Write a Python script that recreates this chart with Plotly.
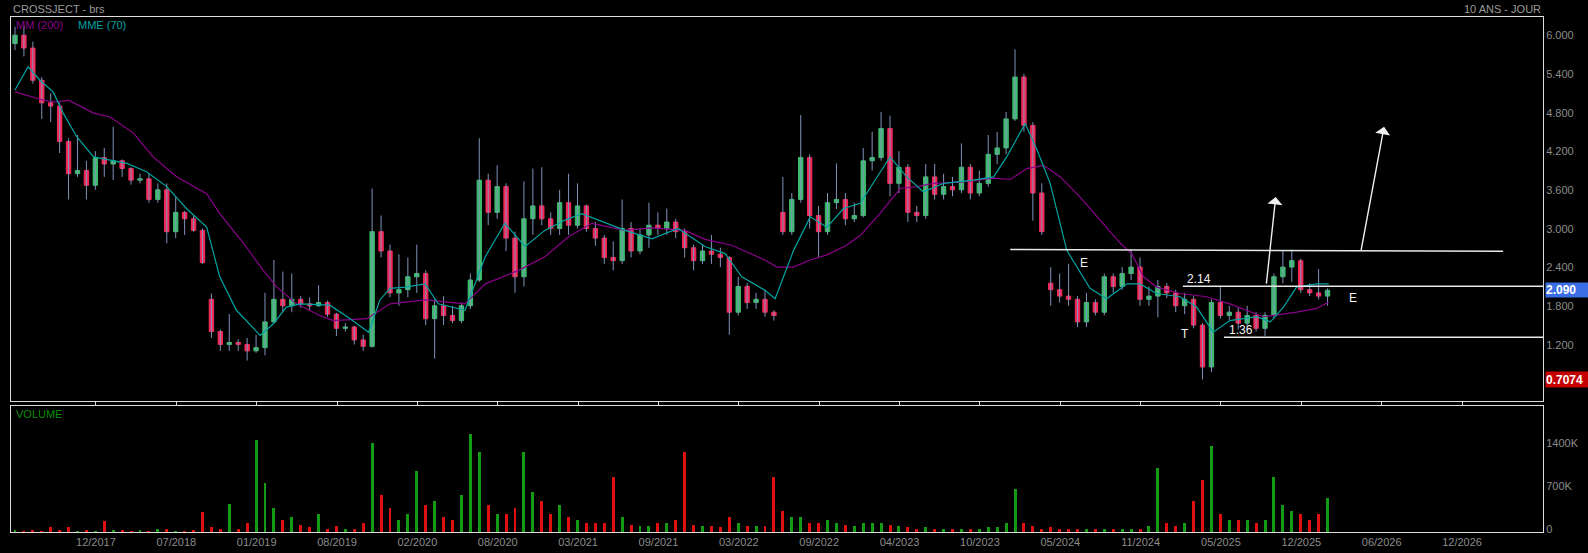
import plotly.graph_objects as go

# ---------------- DATA ----------------
# candles: one candle per 15 sessions (session index = position on the trading-day axis)
opens = [5.92,6.05,5.85,5.35,5.00,4.95,4.40,3.90,3.95,3.72,4.15,4.05,4.10,3.98,3.80,3.82,3.50,3.65,3.00,3.30,3.20,3.02,
         1.95,1.45,1.25,1.28,1.25,1.15,1.20,1.60,1.95,1.85,1.95,1.88,1.85,1.90,1.72,1.50,1.52,1.32,1.22,3.00,2.70,2.05,
         2.10,2.30,2.35,1.65,1.85,1.70,1.62,1.85,2.25,3.80,3.30,3.70,2.90,2.30,3.20,3.40,3.20,3.05,3.45,3.10,3.40,3.05,
         2.90,2.60,2.55,3.05,2.70,2.95,3.10,3.05,3.15,3.00,2.75,2.55,2.70,2.65,2.60,1.75,2.15,1.90,1.95,1.75,3.30,3.00,
         3.50,4.15,3.25,3.00,3.45,3.50,3.20,3.25,4.10,4.15,4.60,3.75,4.00,3.30,3.25,3.85,3.58,3.70,3.65,4.00,3.60,3.75,
         4.20,4.30,4.75,5.40,4.65,3.60,2.20,2.10,2.00,1.95,1.60,1.90,1.75,2.30,2.15,2.35,2.45,1.95,2.00,2.15,2.05,1.85,
         1.95,1.55,0.90,1.90,1.70,1.75,1.58,1.70,1.50,1.70,2.30,2.45,2.55,2.10,2.05,2.00]
highs = [6.18,6.20,5.95,5.40,5.15,5.00,4.45,4.50,4.10,4.25,4.30,4.63,4.12,4.00,3.90,3.90,3.75,3.75,3.55,3.32,3.25,3.05,
         2.04,1.48,1.72,1.33,1.35,1.40,2.05,2.56,2.38,2.35,2.00,1.98,2.17,1.93,1.74,1.58,1.54,1.40,3.67,3.25,2.80,2.65,
         2.60,2.80,2.40,1.95,2.00,1.85,1.90,2.35,4.45,3.90,4.03,3.75,3.00,3.78,3.98,4.00,3.30,3.65,3.90,3.75,3.42,3.15,
         2.95,2.85,3.50,3.15,3.05,3.45,3.30,3.36,3.20,3.05,2.80,2.80,2.95,2.75,2.62,2.30,2.20,2.05,2.10,1.78,3.85,3.60,
         4.81,4.20,3.40,3.60,4.06,3.60,3.45,4.30,4.55,4.86,4.80,4.25,4.05,3.40,4.05,4.05,3.90,3.85,4.37,4.05,3.95,4.50,
         4.55,4.86,5.83,5.45,4.70,3.75,2.45,2.35,2.50,2.00,2.05,1.95,2.35,2.35,2.45,2.72,2.60,2.15,2.25,2.20,2.10,2.05,
         2.00,1.58,1.95,2.14,1.85,1.82,1.85,1.75,1.75,2.35,2.70,2.72,2.58,2.20,2.42,2.12]
lows = [5.82,5.72,5.30,4.75,4.70,4.22,3.50,3.85,3.50,3.65,3.85,3.80,3.85,3.73,3.75,3.45,3.45,2.82,2.90,2.95,3.00,2.50,
        1.35,1.15,1.15,1.15,1.00,1.12,1.08,1.58,1.75,1.75,1.82,1.78,1.83,1.68,1.38,1.45,1.25,1.15,1.20,2.60,1.98,1.85,
        1.98,2.05,1.55,1.03,1.55,1.58,1.58,1.80,2.22,3.10,3.20,2.70,2.05,2.15,2.95,3.10,2.95,2.95,2.95,3.05,3.00,2.78,
        2.50,2.40,2.50,2.60,2.65,2.75,2.95,2.95,2.90,2.60,2.40,2.50,2.50,2.45,1.40,1.70,1.80,1.80,1.68,1.62,2.95,2.95,
        3.45,3.05,2.60,2.95,3.35,3.10,3.15,3.22,3.95,4.10,3.55,3.60,3.15,3.15,3.20,3.50,3.50,3.55,3.60,3.50,3.55,3.70,
        4.05,4.20,4.72,4.55,3.17,2.95,1.85,1.90,1.85,1.52,1.52,1.70,1.70,2.05,2.10,2.25,1.85,1.85,1.67,1.97,1.75,1.72,
        1.50,0.7074,0.82,1.65,1.62,1.48,1.52,1.45,1.38,1.65,2.20,2.22,2.05,2.00,1.95,1.85]
closes = [6.05,5.85,5.35,5.00,4.95,4.40,3.90,3.95,3.72,4.15,4.05,4.10,3.98,3.80,3.82,3.50,3.65,3.00,3.30,3.20,3.02,2.52,
          1.45,1.25,1.28,1.25,1.15,1.20,1.60,1.95,1.85,1.95,1.88,1.85,1.90,1.72,1.50,1.52,1.32,1.22,3.00,2.70,2.05,2.10,
          2.30,2.35,1.65,1.85,1.70,1.62,1.85,2.25,3.80,3.30,3.70,2.90,2.30,3.20,3.40,3.20,3.05,3.45,3.10,3.40,3.05,2.90,
          2.60,2.55,3.05,2.70,2.95,3.10,3.05,3.15,3.00,2.75,2.55,2.70,2.65,2.60,1.75,2.15,1.90,1.95,1.75,1.70,3.00,3.50,
          4.15,3.25,3.00,3.45,3.50,3.20,3.25,4.10,4.15,4.60,3.75,4.00,3.30,3.25,3.85,3.58,3.70,3.65,4.00,3.60,3.75,4.20,
          4.30,4.75,5.40,4.65,3.60,3.00,2.10,2.00,1.95,1.60,1.90,1.75,2.30,2.15,2.35,2.45,1.95,2.00,2.15,2.05,1.85,1.95,
          1.55,0.90,1.90,1.70,1.75,1.58,1.70,1.50,1.70,2.30,2.45,2.55,2.10,2.05,2.00,2.09]
volumes_k = [30,25,30,25,80,30,90,25,30,25,180,40,30,25,30,25,60,60,25,20,30,330,
             80,60,460,60,150,1500,800,400,200,250,120,80,300,60,100,50,60,150,1450,600,400,200,300,1000,450,500,250,200,600,1600,1300,450,300,
             300,400,1300,650,500,300,450,250,200,150,150,150,900,250,120,100,100,150,150,200,1300,120,100,100,80,250,150,100,100,100,
             900,350,250,250,150,150,200,150,120,100,150,150,150,120,100,80,60,80,60,60,50,60,50,50,80,80,150,700,150,100,60,80,60,60,50,50,50,50,60,60,60,60,
             100,1050,150,100,150,500,850,1400,300,200,200,200,150,200,900,450,350,300,200,300,550]
SESSIONS_PER_CANDLE = 15

# moving averages (session index, value)
mm200_s = [0,48,70,90,132,160,199,232,272,322,344,384,417,440,473,512,535,591,630,689,756,790,846,890,930,969,1025,
           1070,1126,1159,1204,1260,1280,1308,1336,1364,1397,1420,1453,1487,1515,1543,1588,1644,1672,1700,1728,1756,
           1789,1823,1857,1876,1896,1918,1957,2002,2041,2097,2153,2187,2207]
mm200_v = [5.17,5.04,5.01,5.04,4.84,4.78,4.53,4.16,3.85,3.59,3.28,2.82,2.40,2.14,1.88,1.70,1.62,1.65,1.88,1.94,1.88,
           2.19,2.40,2.61,2.92,3.13,3.02,3.06,3.02,2.88,2.79,2.56,2.45,2.45,2.56,2.64,2.79,2.94,3.28,3.67,3.70,3.75,
           3.77,3.83,3.81,3.98,4.03,3.85,3.54,3.18,2.82,2.66,2.30,2.14,2.04,1.99,1.88,1.68,1.75,1.81,1.91]
mme70_s = [0,22,42,64,81,104,132,160,188,221,255,288,322,344,372,412,434,456,479,529,563,594,613,630,656,689,711,756,
           790,823,857,890,924,952,980,1025,1070,1114,1159,1193,1221,1260,1277,1308,1336,1364,1392,1420,1470,1498,1526,
           1560,1610,1644,1666,1697,1717,1739,1767,1806,1834,1868,1890,1918,1957,1985,2013,2041,2086,2109,2131,2153,
           2187,2207]
mme70_v = [5.20,5.56,5.35,5.17,4.84,4.47,4.16,4.11,4.06,3.93,3.70,3.36,3.07,2.30,1.78,1.39,1.57,1.83,1.88,1.86,1.65,
           1.44,1.94,2.12,2.14,2.19,1.88,1.78,2.61,3.13,2.77,3.02,3.18,3.28,3.18,3.02,2.89,3.05,2.77,2.66,2.30,2.09,
           1.96,2.71,3.23,3.07,3.36,3.44,4.16,3.85,3.62,3.75,3.80,3.85,4.16,4.68,4.27,3.75,2.71,2.12,1.96,2.19,2.19,
           2.04,1.99,1.83,1.44,1.62,1.68,1.60,1.83,2.14,2.19,2.19]

# x axis: date labels every 135 sessions
tick_sessions = [136,271,406,541,676,811,946,1081,1216,1351,1486,1621,1756,1891,2026,2161,2296,2431]
tick_labels = ["12/2017","07/2018","01/2019","08/2019","02/2020","08/2020","03/2021","09/2021","03/2022",
               "09/2022","04/2023","10/2023","05/2024","11/2024","05/2025","12/2025","06/2026","12/2026"]
price_ticks = [1.2,1.8,2.4,3.0,3.6,4.2,4.8,5.4,6.0]
vol_ticks = [0, 700000, 1400000]
vol_tick_labels = ["0", "700K", "1400K"]

# drawn analysis: horizontal levels (start session, end session, level at start, level at end)
levels = [(1672, 2500, 2.722, 2.697), (1962, 2570, 2.154, 2.154), (2031, 2570, 1.362, 1.362)]
# arrows (tail session, tail price, head session, head price)
arrows = [(2102, 2.17, 2118, 3.54), (2261, 2.69, 2300, 4.63)]
# labels (session, price, text)
chart_labels = [(1796, 2.52, "E"), (1989, 2.27, "2.14"), (1966, 1.41, "T"), (2060, 1.47, "1.36"), (2248, 1.97, "E")]
last_price = 2.090
min_price = 0.7074

# ---------------- FIGURE ----------------
sess = [k * SESSIONS_PER_CANDLE for k in range(len(closes))]
body_hi = [max(o, c) for o, c in zip(opens, closes)]
body_lo = [min(o, c) for o, c in zip(opens, closes)]

wx, wy = [], []
for s, h, l in zip(sess, highs, lows):
    wx += [s, s, None]
    wy += [l, h, None]

GREEN = "#3dbd6e"
PINK = "#f5295a"
WICK = "#7f93b8"
FONT = "Liberation Sans, Arial, sans-serif"
GRAY = "#8c8c8c"
FRAME = "#dcdcdc"

fig = go.Figure()
fig.add_trace(go.Scatter(x=wx, y=wy, mode="lines", line=dict(color=WICK, width=1),
                         xaxis="x", yaxis="y", hoverinfo="skip", showlegend=False))
fig.add_trace(go.Candlestick(x=sess, open=opens, high=body_hi, low=body_lo, close=closes,
                             increasing=dict(line=dict(color=GREEN, width=1), fillcolor=GREEN),
                             decreasing=dict(line=dict(color=PINK, width=1), fillcolor=PINK),
                             whiskerwidth=0, xaxis="x", yaxis="y", showlegend=False))
fig.add_trace(go.Scatter(x=mm200_s, y=mm200_v, mode="lines", line=dict(color="#8a008a", width=1.2),
                         xaxis="x", yaxis="y", showlegend=False))
fig.add_trace(go.Scatter(x=mme70_s, y=mme70_v, mode="lines", line=dict(color="#00a3a3", width=1.2),
                         xaxis="x", yaxis="y", showlegend=False))

vol_colors = ["#149a14" if c >= o else "#e01010" for o, c in zip(opens, closes)]
fig.add_trace(go.Bar(x=sess, y=[v * 1000 for v in volumes_k], marker=dict(color=vol_colors, line=dict(width=0)),
                     width=5, xaxis="x2", yaxis="y2", showlegend=False))

shapes = []
for s0, s1, y0, y1 in levels:
    shapes.append(dict(type="line", xref="x", yref="y", x0=s0, x1=s1, y0=y0, y1=y1,
                       line=dict(color="#e8e8e8", width=1.5)))

annotations = []
for ts, tp, hs, hp in arrows:
    annotations.append(dict(x=hs, y=hp, ax=ts, ay=tp, xref="x", yref="y", axref="x", ayref="y",
                            text="", showarrow=True, arrowhead=1, arrowsize=1.8, arrowwidth=1.4,
                            arrowcolor="#f0f0f0"))
for s, p, t in chart_labels:
    annotations.append(dict(x=s, y=p, xref="x", yref="y", text=t, showarrow=False,
                            font=dict(color="#f2f2f2", size=12, family=FONT)))

def px_x(X):
    return (X - 11) / 1532.0

def px_y(Y):
    return (532 - Y) / 515.0

annotations += [
    dict(x=0, y=px_y(9), xref="paper", yref="paper", text="CROSSJECT - brs", showarrow=False,
         xanchor="left", yanchor="middle", font=dict(color="#9a9a9a", size=11, family=FONT)),
    dict(x=1, y=px_y(9), xref="paper", yref="paper", text="10 ANS - JOUR", showarrow=False,
         xanchor="right", yanchor="middle", font=dict(color="#9a9a9a", size=11, family=FONT)),
    dict(x=px_x(14), y=px_y(25), xref="paper", yref="paper", text="MM (200)", showarrow=False,
         xanchor="left", yanchor="middle", font=dict(color="#8a008a", size=11, family=FONT)),
    dict(x=px_x(76), y=px_y(25), xref="paper", yref="paper", text="MME (70)", showarrow=False,
         xanchor="left", yanchor="middle", font=dict(color="#00a3a3", size=11, family=FONT)),
    dict(x=px_x(14), y=px_y(414), xref="paper", yref="paper", text="VOLUME", showarrow=False,
         xanchor="left", yanchor="middle", font=dict(color="#0b8a0b", size=11, family=FONT)),
    dict(x=px_x(1545), y=last_price, xref="paper", yref="y", text="<b>%.3f</b>" % last_price, showarrow=False,
         xanchor="left", yanchor="middle", align="left", width=44, height=14, borderpad=0,
         bgcolor="#3b6ee6", font=dict(color="white", size=12, family=FONT)),
    dict(x=px_x(1545), y=min_price, xref="paper", yref="y", text="<b>%.4f</b>" % min_price, showarrow=False,
         xanchor="left", yanchor="middle", align="left", width=44, height=15, borderpad=0,
         bgcolor="#c40000", font=dict(color="white", size=12, family=FONT)),
]

axis_common = dict(showgrid=False, zeroline=False, showline=True, linecolor=FRAME, linewidth=1, mirror=True,
                   automargin=False)

fig.update_layout(
    width=1588, height=553,
    paper_bgcolor="black", plot_bgcolor="black",
    margin=dict(l=11, r=45, t=17, b=21, autoexpand=False),
    showlegend=False, bargap=0, hovermode=False,
    font=dict(family=FONT, color=GRAY, size=11),
    xaxis=dict(domain=[0, 1], anchor="y", range=[-6.7, 2567], tickvals=tick_sessions, showticklabels=False,
               ticks="outside", ticklen=3, tickcolor=FRAME, rangeslider=dict(visible=False), **axis_common),
    xaxis2=dict(domain=[0, 1], anchor="y2", range=[-6.7, 2567], matches="x", tickvals=tick_sessions,
                ticktext=tick_labels, ticks="", tickfont=dict(color=GRAY, size=11, family=FONT), **axis_common),
    yaxis=dict(domain=[0.255, 1], anchor="x", side="right", range=[0.377, 6.332], tickvals=price_ticks,
               tickformat=".3f", ticks="", ticklabelshift=-3,
               tickfont=dict(color=GRAY, size=11, family=FONT), **axis_common),
    yaxis2=dict(domain=[0, 0.2452], anchor="x2", side="right", range=[0, 2050000], tickvals=vol_ticks,
                ticktext=vol_tick_labels, ticks="", ticklabelshift=-3,
                tickfont=dict(color=GRAY, size=11, family=FONT), **axis_common),
    shapes=shapes, annotations=annotations,
)

fig.write_html("out.html", config={"displayModeBar": False},
               post_script="document.body.style.margin='0';document.body.style.overflow='hidden';")
